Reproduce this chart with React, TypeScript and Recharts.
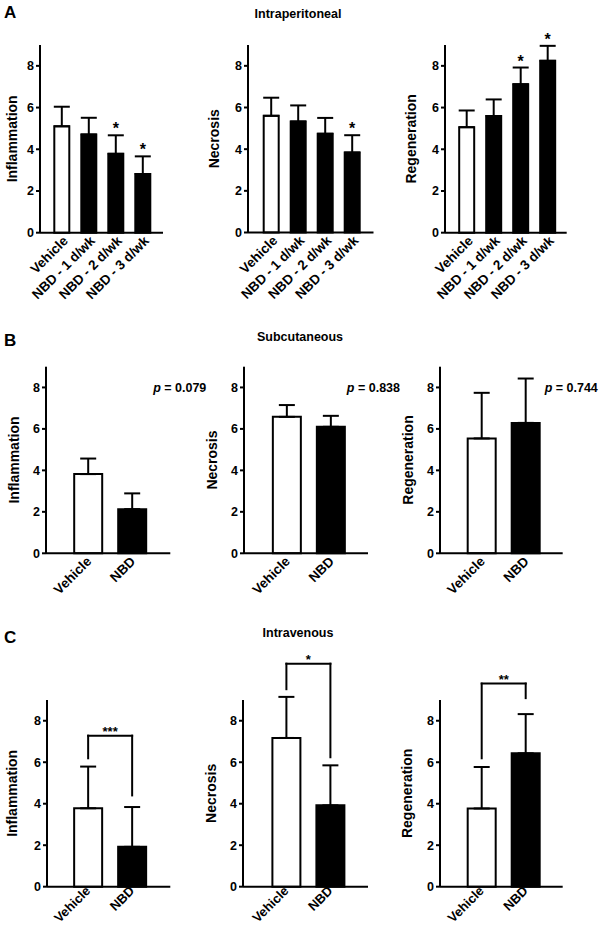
import React from 'react';
import { BarChart, Bar, XAxis, YAxis, ErrorBar, Cell, ReferenceLine, ReferenceDot } from 'recharts';

const FONT = '"Liberation Sans", Arial, Helvetica, sans-serif';

// ---------------- data ----------------
const groupsA = ['Vehicle', 'NBD - 1 d/wk', 'NBD - 2 d/wk', 'NBD - 3 d/wk'];
const groupsBC = ['Vehicle', 'NBD'];
const yTicks = [0, 2, 4, 6, 8];

// Panel A: Intraperitoneal
const inflA = [5.1, 4.71, 3.78, 2.81];
const inflAErr = [0.94, 0.8, 0.89, 0.85];
const inflASig = [false, false, true, true];
const necA = [5.6, 5.33, 4.74, 3.84];
const necAErr = [0.87, 0.77, 0.76, 0.83];
const necASig = [false, false, false, true];
const regA = [5.06, 5.59, 7.12, 8.24];
const regAErr = [0.8, 0.8, 0.8, 0.72];
const regASig = [false, false, true, true];

// Panel B: Subcutaneous
const inflB = [3.82, 2.13];
const inflBErr = [0.75, 0.76];
const necB = [6.58, 6.1];
const necBErr = [0.57, 0.53];
const regB = [5.54, 6.29];
const regBErr = [2.2, 2.14];
const pValuesB = ['0.079', '0.838', '0.744'];

// Panel C: Intravenous
const inflC = [3.78, 1.92];
const inflCErr = [2.01, 1.92];
const necC = [7.17, 3.92];
const necCErr = [1.98, 1.93];
const regC = [3.77, 6.43];
const regCErr = [2.0, 1.89];
const bracketTopC = [7.28, 10.75, 9.79];
const bracketLeftC = [6.19, 9.52, 6.19];
const bracketRightC = [4.4, 6.24, 9.09];
const bracketStarsC = ['***', '*', '**'];

// ---------------- layout ----------------
type Lay = {
  axisX: number; axisEnd: number; contTop: number; y0: number; y9: number;
  dmax: number; barSize: number; padL: number; padR: number; gap: number;
  xh: number; mr: number; ox: number; oy: number; fs: number;
};

const YW = 45;

const RotTick = (props: any) => {
  const { x, y, payload, ox, oy, fs } = props;
  return (
    <text
      transform={`translate(${x + ox},${y + oy}) rotate(-45)`}
      textAnchor="end"
      fontSize={fs}
      fontWeight="bold"
      fontFamily={FONT}
      fill="#000"
    >
      {payload.value}
    </text>
  );
};

type PanelProps = {
  cats: string[]; vals: number[]; errs: number[]; sig?: boolean[]; ylabel: string; lay: Lay;
  pval?: string; pDx?: number;
  bracket?: { top: number; left: number; right: number; stars: string };
};

function Panel({ cats, vals, errs, sig, ylabel, lay, pval, pDx, bracket }: PanelProps) {
  const data = cats.map((c, i) => ({ cat: c, v: vals[i], e: [0, errs[i]] }));
  const contLeft = lay.axisX - YW;
  const unit = (lay.y0 - lay.y9) / 9;
  const yTop = lay.y0 - unit * lay.dmax;
  const marginTop = yTop - lay.contTop;
  const mb = 4;
  const height = lay.y0 - lay.contTop + lay.xh + mb;
  const width = lay.axisEnd - contLeft + lay.mr;
  const extended = lay.dmax > 9;
  const black = { stroke: '#000', strokeWidth: 2 };

  const yLabel = (p: any) => {
    const vb = p.viewBox || { x: 0, y: yTop - 0, width: YW, height: lay.y0 - yTop };
    const cx = vb.x + vb.width - lay.gap;
    const cy = vb.y + vb.height * (1 - 4.5 / lay.dmax);
    return (
      <text
        transform={`translate(${cx},${cy}) rotate(-90)`}
        textAnchor="middle"
        dy="0.36em"
        fontSize={14}
        fontWeight="bold"
        fontFamily={FONT}
        fill="#000"
      >
        {ylabel}
      </text>
    );
  };

  return (
    <div style={{ position: 'absolute', left: contLeft, top: lay.contTop }}>
      <BarChart
        width={width}
        height={height}
        data={data}
        margin={{ top: marginTop, right: lay.mr, bottom: mb, left: 0 }}
      >
        <XAxis
          dataKey="cat"
          type="category"
          height={lay.xh}
          interval={0}
          padding={{ left: lay.padL, right: lay.padR }}
          tickLine={false}
          tickSize={0}
          tickMargin={0}
          axisLine={black}
          tick={(p: any) => <RotTick {...p} ox={lay.ox} oy={lay.oy} fs={lay.fs} />}
        />
        {extended && (
          <XAxis xAxisId="n" type="number" domain={[0, 1]} allowDataOverflow hide />
        )}
        <YAxis
          width={YW}
          type="number"
          domain={[0, lay.dmax]}
          ticks={yTicks}
          interval={0}
          axisLine={extended ? false : black}
          tickLine={black}
          tickSize={4}
          tickMargin={2}
          tick={{ fontSize: 12.5, fontWeight: 'bold', fill: '#000', fontFamily: FONT }}
          label={{ value: ylabel, content: yLabel }}
        />
        {extended && (
          <ReferenceLine
            xAxisId="n"
            segment={[{ x: 0, y: 0 }, { x: 0, y: 9 }]}
            stroke="#000"
            strokeWidth={2}
          />
        )}
        <Bar
          dataKey="v"
          barSize={lay.barSize}
          stroke="#000"
          strokeWidth={2}
          isAnimationActive={false}
        >
          {data.map((d, i) => (
            <Cell key={d.cat} fill={i === 0 ? '#ffffff' : '#000000'} />
          ))}
          <ErrorBar dataKey="e" direction="y" width={8} stroke="#000" strokeWidth={2} />
        </Bar>
        {sig &&
          data.map((d, i) =>
            sig[i] ? (
              <ReferenceDot
                key={'s' + i}
                x={d.cat}
                y={vals[i] + errs[i]}
                r={0}
                fill="none"
                stroke="none"
                label={{ value: '*', position: 'top', offset: 1, fill: '#000', fontSize: 16, fontWeight: 'bold', fontFamily: FONT }}
              />
            ) : null
          )}
        {pval && (
          <ReferenceDot
            x={cats[cats.length - 1]}
            y={8}
            r={0}
            fill="none"
            stroke="none"
            label={(p: any) => {
              const vb = p.viewBox || { x: 0, y: 0, width: 0, height: 0 };
              return (
                <text
                  x={vb.x + vb.width / 2 + (pDx || 0)}
                  y={vb.y + vb.height / 2 + 4.5}
                  fontSize={12.5}
                  fontWeight="bold"
                  fontFamily={FONT}
                  fill="#000"
                >
                  <tspan fontStyle="italic">p</tspan>
                  {' = ' + pval}
                </text>
              );
            }}
          />
        )}
        {bracket && (
          <ReferenceLine
            segment={[{ x: cats[0], y: bracket.top }, { x: cats[1], y: bracket.top }]}
            stroke="#000"
            strokeWidth={2}
            strokeLinecap="square"
            label={{ value: bracket.stars, position: 'top', offset: 0, fill: '#000', fontSize: 13, fontWeight: 'bold', fontFamily: FONT }}
          />
        )}
        {bracket && (
          <ReferenceLine
            segment={[{ x: cats[0], y: bracket.left }, { x: cats[0], y: bracket.top }]}
            stroke="#000"
            strokeWidth={2}
            strokeLinecap="square"
          />
        )}
        {bracket && (
          <ReferenceLine
            segment={[{ x: cats[1], y: bracket.right }, { x: cats[1], y: bracket.top }]}
            stroke="#000"
            strokeWidth={2}
            strokeLinecap="square"
          />
        )}
      </BarChart>
    </div>
  );
}

const base = { dmax: 9, mr: 10, fs: 13.5 };
const layA1: Lay = { ...base, axisX: 40, axisEnd: 163, contTop: 0, y0: 232.7, y9: 45, barSize: 15, padL: 8.3, padR: 6.7, gap: 28, xh: 92, ox: 7, oy: 9 };
const layA2: Lay = { ...base, axisX: 247.5, axisEnd: 373, contTop: 0, y0: 232.5, y9: 45, barSize: 15, padL: 9.7, padR: 7.8, gap: 34, xh: 92, ox: 7, oy: 9 };
const layA3: Lay = { ...base, axisX: 445, axisEnd: 566.7, contTop: 0, y0: 232.7, y9: 45, barSize: 15, padL: 8.2, padR: 5.5, gap: 34, xh: 92, ox: 7, oy: 9 };

const layB1: Lay = { ...base, axisX: 45.7, axisEnd: 170, contTop: 340, y0: 553.3, y9: 366.7, barSize: 28, padL: 20.2, padR: 16.1, gap: 32, xh: 62, mr: 50, ox: 4, oy: 9 };
const layB2: Lay = { ...base, axisX: 244, axisEnd: 368, contTop: 340, y0: 553.3, y9: 366.7, barSize: 28, padL: 20.85, padR: 15.15, gap: 32, xh: 62, mr: 50, ox: 4, oy: 9 };
const layB3: Lay = { ...base, axisX: 440, axisEnd: 562.7, contTop: 340, y0: 553.3, y9: 366.7, barSize: 28, padL: 19.7, padR: 15, gap: 32, xh: 62, mr: 37, ox: 4, oy: 9 };

const baseC = { dmax: 12, mr: 10, fs: 13, xh: 37, ox: 3, oy: 5, contTop: 630, y0: 886.7, y9: 700, barSize: 28 };
const layC1: Lay = { ...baseC, axisX: 46.7, axisEnd: 170, padL: 19.15, padR: 16.15, gap: 35 };
const layC2: Lay = { ...baseC, axisX: 243.3, axisEnd: 368.3, padL: 21.4, padR: 15.6, gap: 32 };
const layC3: Lay = { ...baseC, axisX: 440, axisEnd: 562.7, padL: 19.7, padR: 15, gap: 33 };

export default function App() {
  const txt = { fontFamily: FONT, fill: '#000', fontWeight: 'bold' as const };
  return (
    <div style={{ position: 'absolute', left: 0, top: 0, width: 600, height: 928, overflow: 'hidden', background: '#fff', fontFamily: FONT }}>
      <svg width={600} height={928} style={{ position: 'absolute', left: 0, top: 0 }}>
        <text x={4} y={18} fontSize={17} {...txt}>A</text>
        <text x={4} y={346} fontSize={17} {...txt}>B</text>
        <text x={4} y={643} fontSize={17} {...txt}>C</text>
        <text x={298} y={17.5} fontSize={12.5} textAnchor="middle" {...txt}>Intraperitoneal</text>
        <text x={300} y={340.5} fontSize={12.5} textAnchor="middle" {...txt}>Subcutaneous</text>
        <text x={298} y={637} fontSize={12.5} textAnchor="middle" {...txt}>Intravenous</text>
      </svg>

      <Panel cats={groupsA} vals={inflA} errs={inflAErr} sig={inflASig} ylabel="Inflammation" lay={layA1} />
      <Panel cats={groupsA} vals={necA} errs={necAErr} sig={necASig} ylabel="Necrosis" lay={layA2} />
      <Panel cats={groupsA} vals={regA} errs={regAErr} sig={regASig} ylabel="Regeneration" lay={layA3} />

      <Panel cats={groupsBC} vals={inflB} errs={inflBErr} ylabel="Inflammation" lay={layB1} pval={pValuesB[0]} pDx={21} />
      <Panel cats={groupsBC} vals={necB} errs={necBErr} ylabel="Necrosis" lay={layB2} pval={pValuesB[1]} pDx={16} />
      <Panel cats={groupsBC} vals={regB} errs={regBErr} ylabel="Regeneration" lay={layB3} pval={pValuesB[2]} pDx={19} />

      <Panel cats={groupsBC} vals={inflC} errs={inflCErr} ylabel="Inflammation" lay={layC1}
        bracket={{ top: bracketTopC[0], left: bracketLeftC[0], right: bracketRightC[0], stars: bracketStarsC[0] }} />
      <Panel cats={groupsBC} vals={necC} errs={necCErr} ylabel="Necrosis" lay={layC2}
        bracket={{ top: bracketTopC[1], left: bracketLeftC[1], right: bracketRightC[1], stars: bracketStarsC[1] }} />
      <Panel cats={groupsBC} vals={regC} errs={regCErr} ylabel="Regeneration" lay={layC3}
        bracket={{ top: bracketTopC[2], left: bracketLeftC[2], right: bracketRightC[2], stars: bracketStarsC[2] }} />
    </div>
  );
}
